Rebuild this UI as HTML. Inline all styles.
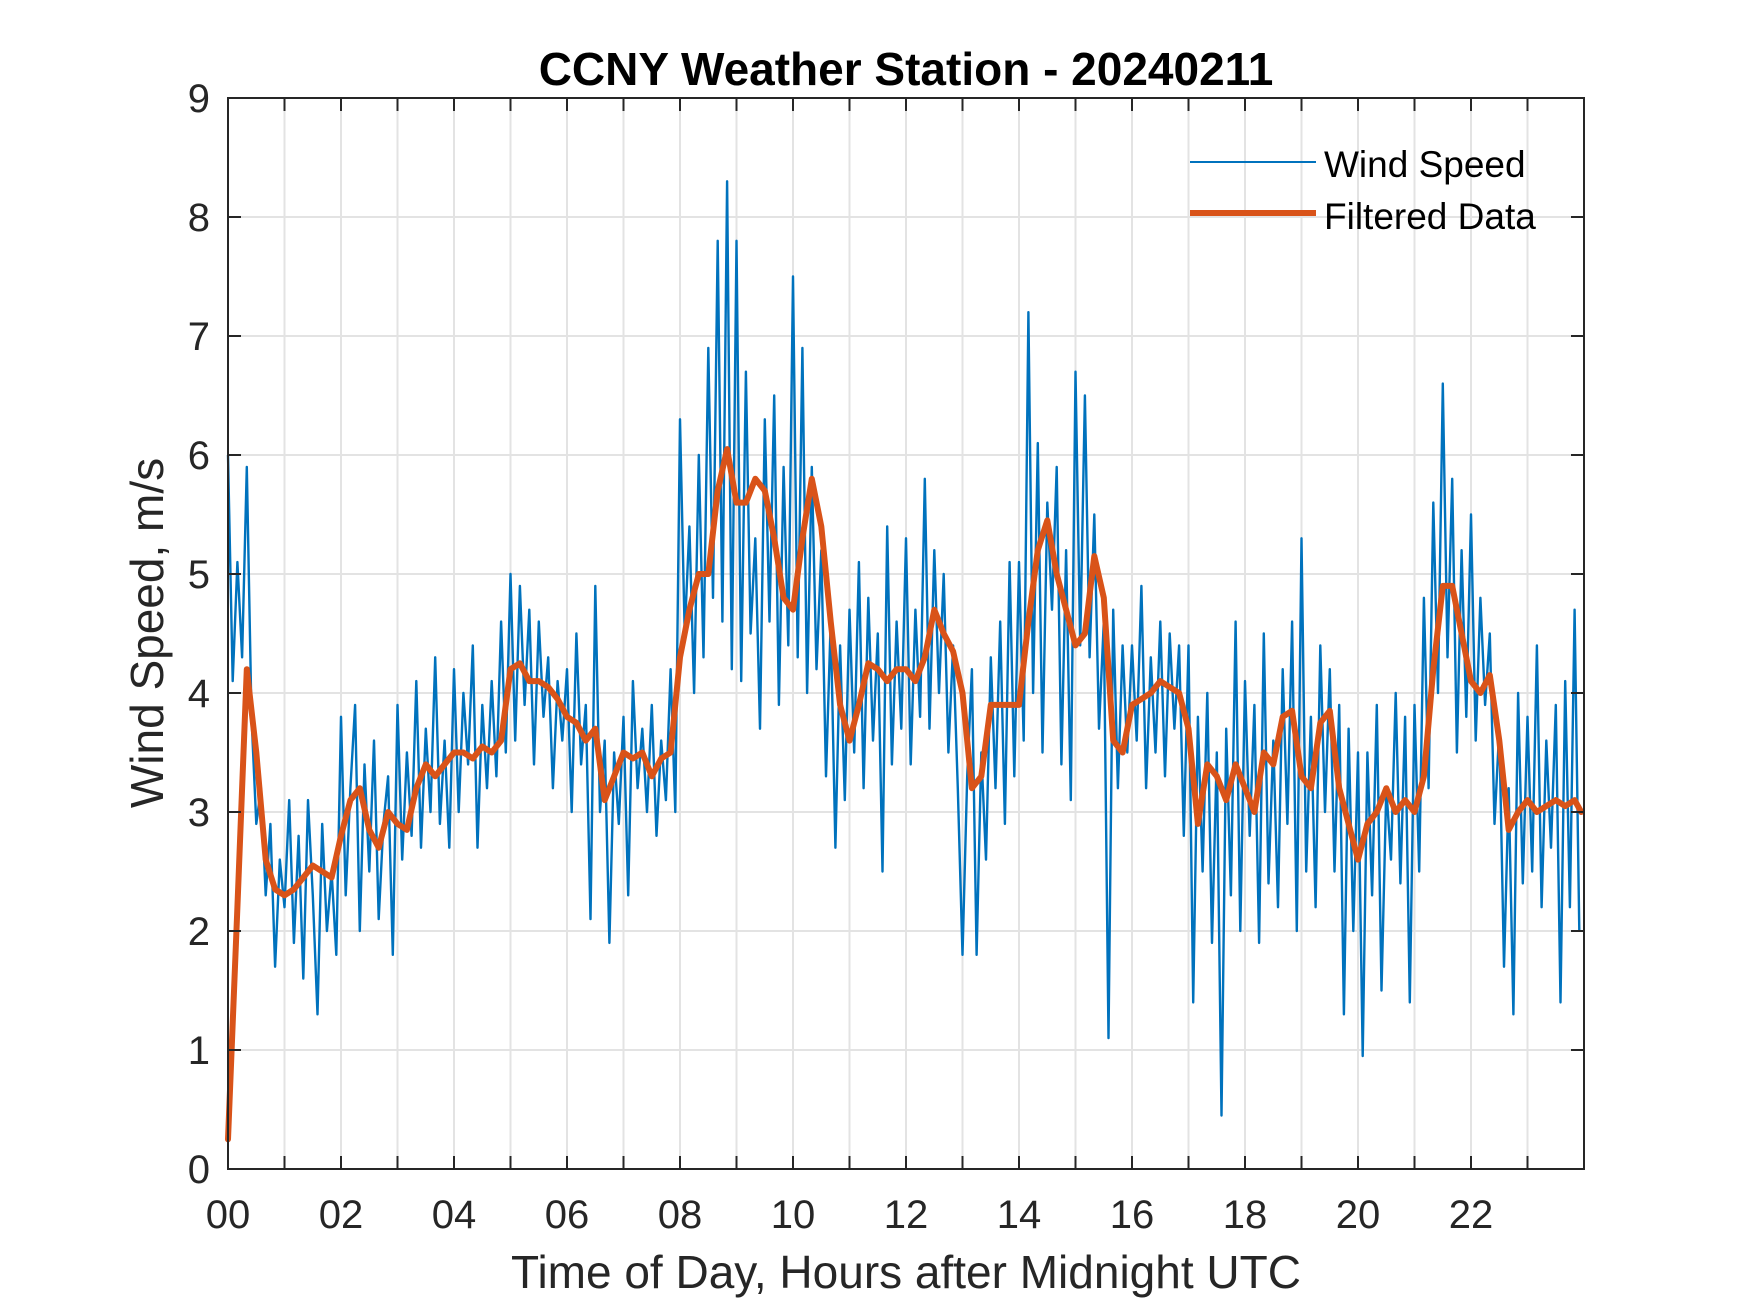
<!DOCTYPE html>
<html><head><meta charset="utf-8"><style>
html,body{margin:0;padding:0;background:#fff;}
svg{display:block;}
text{font-family:"Liberation Sans",Arial,sans-serif;fill:#262626;}
</style></head><body>
<svg id="chart" width="1750" height="1313" viewBox="0 0 1750 1313" xmlns="http://www.w3.org/2000/svg">
<rect width="1750" height="1313" fill="#fff"/>
<g id="grid"></g>
<g id="series"></g>
<g id="axes"></g>
<text x="906" y="85" text-anchor="middle" font-size="46" font-weight="bold" style="fill:#000">CCNY Weather Station - 20240211</text>
<text x="906" y="1288" text-anchor="middle" font-size="46">Time of Day, Hours after Midnight UTC</text>
<text transform="translate(163,633) rotate(-90)" text-anchor="middle" font-size="46">Wind Speed, m/s</text>
<g>
<line x1="1190" y1="162" x2="1316" y2="162" stroke="#0072BD" stroke-width="2"/>
<text x="1324" y="177" font-size="37" style="fill:#000">Wind Speed</text>
<line x1="1190" y1="213" x2="1316" y2="213" stroke="#D95319" stroke-width="6"/>
<text x="1324" y="229" font-size="37" style="fill:#000">Filtered Data</text>
</g>
</svg>
<script>
const xTickLabels = ["00","02","04","06","08","10","12","14","16","18","20","22"];
const yTickLabels = ["0","1","2","3","4","5","6","7","8","9"];
const windStepMin = 5;
const windSpeed = [
6.0,4.1,5.1,4.3,5.9,3.8,2.9,3.2,2.3,2.9,1.7,2.6,
2.2,3.1,1.9,2.8,1.6,3.1,2.3,1.3,2.9,2.0,2.5,1.8,
3.8,2.3,3.2,3.9,2.0,3.4,2.5,3.6,2.1,2.9,3.3,1.8,
3.9,2.6,3.5,2.8,4.1,2.7,3.7,3.0,4.3,2.9,3.6,2.7,
4.2,3.0,4.0,3.4,4.4,2.7,3.9,3.2,4.1,3.3,4.6,3.5,
5.0,3.6,4.9,3.9,4.7,3.4,4.6,3.8,4.3,3.2,4.1,3.6,
4.2,3.0,4.5,3.4,3.9,2.1,4.9,3.0,3.6,1.9,3.5,2.9,
3.8,2.3,4.1,3.2,3.7,3.0,3.9,2.8,3.6,3.1,4.2,3.0,
6.3,4.5,5.4,4.0,6.0,4.3,6.9,4.8,7.8,4.6,8.3,4.2,
7.8,4.1,6.7,4.5,5.3,3.7,6.3,4.6,6.5,3.9,5.9,4.4,
7.5,4.3,6.9,4.0,5.9,4.2,5.2,3.3,4.6,2.7,4.4,3.1,
4.7,3.5,5.1,3.2,4.8,3.6,4.5,2.5,5.4,3.4,4.6,3.7,
5.3,3.4,4.7,3.8,5.8,3.7,5.2,4.0,5.0,3.5,4.4,3.2,
1.8,3.3,4.2,1.8,3.5,2.6,4.3,3.2,4.6,2.9,5.1,3.3,
5.1,3.6,7.2,4.0,6.1,3.5,5.6,4.7,5.9,3.4,5.2,3.1,
6.7,4.4,6.5,4.3,5.5,3.7,4.6,1.1,4.7,3.2,4.4,3.5,
4.4,3.6,4.9,3.2,4.3,3.5,4.6,3.3,4.5,3.7,4.4,2.8,
4.4,1.4,3.8,2.5,4.0,1.9,3.5,0.45,3.7,2.3,4.6,2.0,
4.1,2.8,3.9,1.9,4.5,2.4,3.6,2.2,4.2,2.9,4.6,2.0,
5.3,2.5,3.8,2.2,4.4,3.0,4.2,2.5,3.9,1.3,3.7,2.0,
3.5,0.95,3.5,2.3,3.9,1.5,3.2,2.6,4.0,2.4,3.8,1.4,
3.9,2.5,4.8,3.2,5.6,4.0,6.6,4.3,5.8,3.5,5.2,3.8,
5.5,3.6,4.8,3.9,4.5,2.9,3.7,1.7,3.2,1.3,4.0,2.4,
3.8,2.5,4.4,2.2,3.6,2.7,3.9,1.4,4.1,2.2,4.7,2.0
];
const filteredStepMin = 10;
const filtered = [
0.25,2.2,4.2,3.5,2.6,2.35,
2.3,2.35,2.45,2.55,2.5,2.45,
2.8,3.1,3.2,2.85,2.7,3.0,
2.9,2.85,3.2,3.4,3.3,3.4,
3.5,3.5,3.45,3.55,3.5,3.6,
4.2,4.25,4.1,4.1,4.05,3.95,
3.8,3.75,3.6,3.7,3.1,3.3,
3.5,3.45,3.5,3.3,3.45,3.5,
4.3,4.7,5.0,5.0,5.7,6.05,
5.6,5.6,5.8,5.7,5.3,4.8,
4.7,5.3,5.8,5.4,4.6,3.9,
3.6,3.9,4.25,4.2,4.1,4.2,
4.2,4.1,4.3,4.7,4.5,4.35,
4.0,3.2,3.3,3.9,3.9,3.9,
3.9,4.6,5.2,5.45,5.0,4.7,
4.4,4.5,5.15,4.8,3.6,3.5,
3.9,3.95,4.0,4.1,4.05,4.0,
3.7,2.9,3.4,3.3,3.1,3.4,
3.2,3.0,3.5,3.4,3.8,3.85,
3.3,3.2,3.75,3.85,3.2,2.9,
2.6,2.9,3.0,3.2,3.0,3.1,
3.0,3.3,4.2,4.9,4.9,4.5,
4.1,4.0,4.15,3.6,2.85,3.0,
3.1,3.0,3.05,3.1,3.05,3.1,
3.0
];
const NS="http://www.w3.org/2000/svg";
const L=228,R=1584,T=98,B=1169;
const xMin=0,xMax=24,yMin=0,yMax=9;
function xs(h){return L+(h-xMin)/(xMax-xMin)*(R-L);}
function ys(v){return B-(v-yMin)/(yMax-yMin)*(B-T);}
function mk(tag,attrs,parent){const e=document.createElementNS(NS,tag);for(const k in attrs)e.setAttribute(k,attrs[k]);parent.appendChild(e);return e;}
const grid=document.getElementById('grid'),axes=document.getElementById('axes'),series=document.getElementById('series');
for(let h=1;h<24;h++){
  const g=mk('line',{x1:xs(h),x2:xs(h),y1:T,y2:B,stroke:'#e3e3e3','stroke-width':2},grid);
  
  
}
for(let i=1;i<yTickLabels.length-1;i++){
  const v=Number(yTickLabels[i]);
  const g=mk('line',{x1:L,x2:R,y1:ys(v),y2:ys(v),stroke:'#e3e3e3','stroke-width':2},grid);
  
  
}
let d='';
windSpeed.forEach((v,i)=>{const h=i*windStepMin/60;d+=(i?'L':'M')+xs(h).toFixed(1)+' '+ys(v).toFixed(1);});
const ws=mk('path',{d:d,fill:'none',stroke:'#0072BD','stroke-width':2.4,'stroke-linejoin':'round'},series);


d='';
filtered.forEach((v,i)=>{const h=Math.min(i*filteredStepMin/60,23.95);d+=(i?'L':'M')+xs(h).toFixed(1)+' '+ys(v).toFixed(1);});
const fl=mk('path',{d:d,fill:'none',stroke:'#D95319','stroke-width':6,'stroke-linejoin':'round','stroke-linecap':'round'},series);


const frame=mk('rect',{x:L,y:T,width:R-L,height:B-T,fill:'none',stroke:'#262626','stroke-width':2},axes);


const tl=13;
for(let h=0;h<24;h++){
  const x=xs(h);
  const t1=mk('line',{x1:x,x2:x,y1:B,y2:B-tl,stroke:'#262626','stroke-width':2},axes);
  
  
  const t2=mk('line',{x1:x,x2:x,y1:T,y2:T+tl,stroke:'#262626','stroke-width':2},axes);
  
  
}
xTickLabels.forEach((lab,i)=>{
  const t=mk('text',{x:xs(i*2),y:1228,'text-anchor':'middle','font-size':40},axes);
  t.textContent=lab;
  
  
});
yTickLabels.forEach(lab=>{
  const v=Number(lab),y=ys(v);
  const a=mk('line',{x1:L,x2:L+tl,y1:y,y2:y,stroke:'#262626','stroke-width':2},axes);
  
  
  const b=mk('line',{x1:R,x2:R-tl,y1:y,y2:y,stroke:'#262626','stroke-width':2},axes);
  
  
  const t=mk('text',{x:L-18,y:y+14,'text-anchor':'end','font-size':40},axes);
  t.textContent=lab;
  
  
});
</script>
</body></html>
